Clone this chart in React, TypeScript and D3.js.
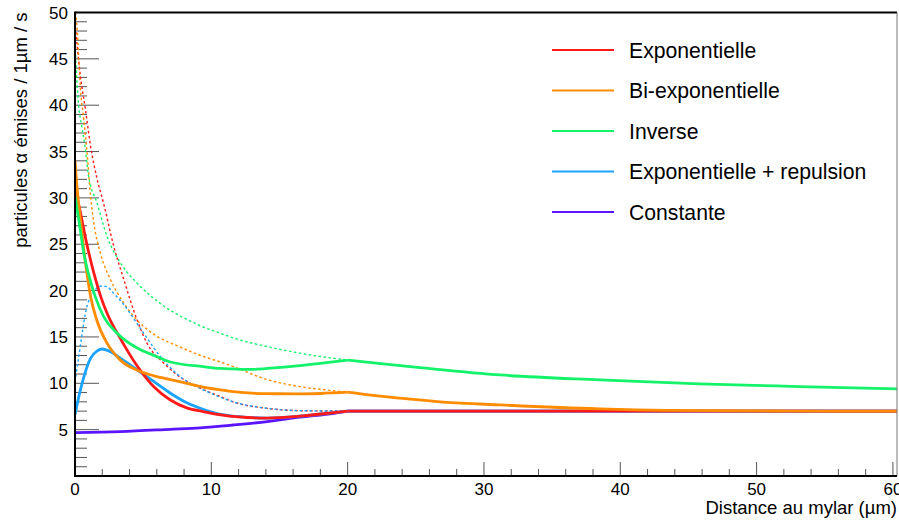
import React from "react";
import * as d3 from "d3";

const W = 899;
const H = 520;
const PL = 75;
const PR = 897;
const PT = 12.5;
const PB = 476;

const X_MAX = 60.3;
const Y_MAX = 50;

const xMajorTicks = [0, 10, 20, 30, 40, 50, 60];
const yMajorTicks = [5, 10, 15, 20, 25, 30, 35, 40, 45, 50];
const xTitle = "Distance au mylar (\u00b5m)";
const yTitle = "particules \u03b1 \u00e9mises / 1\u00b5m / s";

const legendLabels = [
  "Exponentielle",
  "Bi-exponentielle",
  "Inverse",
  "Exponentielle + repulsion",
  "Constante",
];
const colors = ["#ff1a1a", "#ff8c00", "#14f26a", "#1aa3ff", "#5a14ff"];

// Solid fitted curves (kink at x = 20)
const expX = [0, 0.4, 0.9, 1.4, 1.9, 2.4, 3.3, 4.5, 5.8, 7.0, 8.2, 9.4, 10.7, 12.0, 14.1, 16.5, 19.0, 20, 30, 40, 50, 60.3];
const expY = [31.1, 28.4, 24.8, 21.8, 19.3, 17.4, 14.9, 12.0, 9.6, 8.2, 7.35, 6.95, 6.6, 6.38, 6.25, 6.45, 6.84, 7.0, 7.0, 7.0, 7.0, 7.0];

const biX = [0, 0.1, 0.4, 0.77, 1.14, 1.6, 2.36, 3.33, 4.56, 5.8, 7.0, 8.2, 9.4, 10.66, 11.6, 14.1, 16.5, 18, 20, 21.5, 23.85, 27, 31.2, 38.5, 43.4, 50, 60.3];
const biY = [34, 32, 27.6, 23, 19.4, 16.8, 14.3, 12.5, 11.4, 10.8, 10.4, 10.0, 9.6, 9.3, 9.1, 8.88, 8.86, 8.9, 9.04, 8.75, 8.39, 7.98, 7.67, 7.24, 7.08, 7.02, 7.0];

const invX = [0, 0.28, 0.65, 1.14, 1.5, 2.1, 3.09, 4.56, 5.8, 7.0, 9.4, 10.66, 11.6, 13, 14.1, 16.5, 18, 20, 22.6, 25.3, 31.2, 38.5, 45.8, 53.15, 60.3];
const invY = [30.2, 27.6, 24.0, 21.0, 19.3, 17.2, 15.4, 13.8, 13.0, 12.3, 11.8, 11.6, 11.55, 11.5, 11.6, 11.9, 12.15, 12.5, 12.1, 11.7, 10.9, 10.37, 9.94, 9.65, 9.4];

const repX = [0, 0.28, 0.65, 1.14, 1.63, 1.99, 2.6, 3.33, 4.56, 5.77, 7.0, 8.2, 9.4, 10.7, 12.0, 14.1, 16.5, 19.0, 20, 30, 40, 50, 60.3];
const repY = [6.6, 8.56, 10.7, 12.7, 13.5, 13.7, 13.4, 12.7, 11.45, 10.2, 8.93, 7.9, 7.2, 6.65, 6.4, 6.25, 6.45, 6.84, 7.0, 7.0, 7.0, 7.0, 7.0];

const cstX = [0, 3.33, 7.0, 9.2, 11.6, 14.1, 16.5, 19.0, 20, 30, 40, 50, 60.3];
const cstY = [4.68, 4.79, 5.04, 5.2, 5.5, 5.87, 6.34, 6.77, 7.0, 7.0, 7.0, 7.0, 7.0];

// Dotted extrapolations (0 to 20)
const expDotX = [0, 0.16, 0.4, 0.77, 1.14, 1.58, 2.1, 2.84, 3.58, 4.56, 5.29, 6.5, 8.2, 9.2, 10.66, 11.6, 14.1, 16.5, 20];
const expDotY = [49.0, 46.4, 43.1, 39.5, 35.6, 32.3, 29.4, 24.8, 21.2, 16.8, 14.3, 12.2, 10.2, 9.47, 8.57, 8.0, 7.3, 7.05, 7.0];

const biDotX = [0, 0.16, 0.4, 0.65, 0.89, 1.14, 1.38, 1.87, 2.6, 3.58, 4.56, 5.77, 7.73, 9.2, 10.66, 11.6, 14.1, 16.5, 19, 20];
const biDotY = [50.5, 48.2, 41.7, 38.4, 34.8, 30.2, 27.3, 24.0, 21.2, 18.65, 16.8, 15.3, 13.9, 13.0, 12.3, 11.8, 10.4, 9.64, 9.2, 9.04];

const invDotX = [0, 0.12, 0.24, 0.5, 0.73, 0.98, 1.63, 2.36, 3.33, 4.56, 6.26, 8.2, 9.2, 10.66, 11.6, 14.1, 16.5, 20];
const invDotY = [47, 43.1, 40.4, 37.7, 35.6, 32.5, 29.4, 25.8, 23.0, 20.8, 18.6, 16.9, 16.2, 15.4, 14.9, 13.96, 13.25, 12.5];

const repDotX = [0, 0.28, 0.53, 0.77, 1.01, 1.26, 1.63, 1.99, 2.36, 2.84, 3.58, 4.3, 5.04, 6.26, 7.73, 9.4, 10.66, 11.6, 14.1, 16.5, 20];
const repDotY = [10.2, 12.9, 15.4, 17.6, 18.9, 19.6, 20.3, 20.5, 20.4, 19.7, 18.5, 17.0, 15.4, 12.9, 10.7, 9.3, 8.5, 8.0, 7.3, 7.05, 7.0];

const cstDashX = [0, 60.3];
const cstDashY = [7, 7];

const x = d3.scaleLinear().domain([0, X_MAX]).range([PL, PR]);
const y = d3.scaleLinear().domain([0, Y_MAX]).range([PB, PT]);

type Pt = [number, number];

function segments(xs: number[], ys: number[], kink = 20): Pt[][] {
  const pts: Pt[] = xs.map((v, i) => [v, ys[i]]);
  const a = pts.filter((p) => p[0] <= kink);
  const b = pts.filter((p) => p[0] >= kink);
  const out: Pt[][] = [];
  if (a.length > 1) out.push(a);
  if (b.length > 1) out.push(b);
  return out;
}

const lineGen = d3
  .line<Pt>()
  .x((d) => x(d[0]))
  .y((d) => y(d[1]))
  .curve(d3.curveMonotoneX);

function Curve({ xs, ys, color, width, dash }: { xs: number[]; ys: number[]; color: string; width: number; dash?: string }) {
  return (
    <g>
      {segments(xs, ys).map((seg, i) => (
        <path
          key={i}
          d={lineGen(seg) || ""}
          fill="none"
          stroke={color}
          strokeWidth={width}
          strokeDasharray={dash}
          strokeLinejoin="round"
        />
      ))}
    </g>
  );
}

export default function App() {
  const font = "'Liberation Sans', Arial, Helvetica, sans-serif";
  const yMinor = d3.range(1, 50).filter((v) => v % 5 !== 0);
  const xMinor = d3.range(2, 61, 2).filter((v) => v % 10 !== 0);
  const dot = "2.5,2.5";
  const solidW = 2.8;
  return (
    <svg
      width={W}
      height={H}
      style={{ position: "absolute", left: 0, top: 0, background: "#fff" }}
      fontFamily={font}
    >
      <defs>
        <clipPath id="plotclip">
          <rect x={PL} y={PT} width={PR - PL} height={PB - PT} />
        </clipPath>
      </defs>
      <rect x={0} y={0} width={W} height={H} fill="#fff" />

      {/* ticks */}
      <g stroke="#555" strokeWidth={1}>
        {yMajorTicks.map((v) => (
          <line key={"ym" + v} x1={PL} x2={PL + 24} y1={y(v)} y2={y(v)} />
        ))}
        {yMinor.map((v) => (
          <line key={"yn" + v} x1={PL} x2={PL + 12} y1={y(v)} y2={y(v)} />
        ))}
        {xMajorTicks.map((v) => (
          <line key={"xm" + v} x1={x(v)} x2={x(v)} y1={PB} y2={PB - 14} />
        ))}
        {xMinor.map((v) => (
          <line key={"xn" + v} x1={x(v)} x2={x(v)} y1={PB} y2={PB - 7} />
        ))}
      </g>

      <g clipPath="url(#plotclip)">
        <Curve xs={expDotX} ys={expDotY} color={colors[0]} width={1.4} dash={dot} />
        <Curve xs={biDotX} ys={biDotY} color={colors[1]} width={1.4} dash={dot} />
        <Curve xs={invDotX} ys={invDotY} color={colors[2]} width={1.4} dash={dot} />
        <Curve xs={repDotX} ys={repDotY} color={colors[3]} width={1.4} dash={dot} />

        <Curve xs={cstX} ys={cstY} color={colors[4]} width={solidW} />
        <Curve xs={repX} ys={repY} color={colors[3]} width={solidW} />
        <Curve xs={expX} ys={expY} color={colors[0]} width={solidW} />
        <Curve xs={biX} ys={biY} color={colors[1]} width={solidW} />
        <Curve xs={invX} ys={invY} color={colors[2]} width={solidW} />

        <Curve xs={cstDashX} ys={cstDashY} color={colors[4]} width={1.2} dash="4,2.5" />
      </g>

      {/* frame */}
      <line x1={PL} x2={PR} y1={PT} y2={PT} stroke="#000" strokeWidth={2} />
      <line x1={PR} x2={PR} y1={PT} y2={PB} stroke="#777" strokeWidth={1} />
      <line x1={PL} x2={PL} y1={PT - 1} y2={PB + 1} stroke="#000" strokeWidth={2} />
      <line x1={PL - 1} x2={PR} y1={PB} y2={PB} stroke="#000" strokeWidth={2} />

      {/* tick labels */}
      <g fontSize={17} fill="#000">
        {yMajorTicks.map((v) => (
          <text key={"yl" + v} x={68} y={y(v)} dy="0.36em" textAnchor="end">
            {v}
          </text>
        ))}
        {xMajorTicks.map((v) => (
          <text key={"xl" + v} x={x(v)} y={495} textAnchor="middle">
            {v}
          </text>
        ))}
      </g>

      {/* axis titles */}
      <text x={PR} y={514} fontSize={18.5} textAnchor="end" fill="#000">
        {xTitle}
      </text>
      <text
        transform={`translate(27, ${PT}) rotate(-90)`}
        fontSize={18.5}
        textAnchor="end"
        fill="#000"
      >
        {yTitle}
      </text>

      {/* legend */}
      <g>
        {legendLabels.map((lab, i) => {
          const ly = 50 + i * 40.5;
          return (
            <g key={lab}>
              <line x1={552} x2={614} y1={ly} y2={ly} stroke={colors[i]} strokeWidth={2} />
              <text x={629} y={ly} dy="0.36em" fontSize={21.2} fill="#000">
                {lab}
              </text>
            </g>
          );
        })}
      </g>
    </svg>
  );
}
